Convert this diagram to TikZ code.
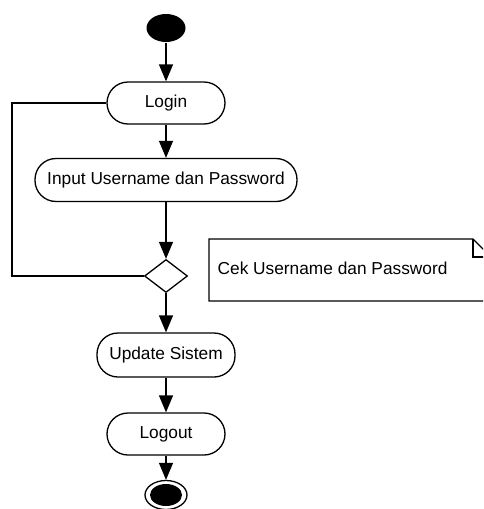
\documentclass[tikz,border=0pt]{standalone}
\usepackage{fontspec}
\setmainfont{Liberation Sans}
\usetikzlibrary{arrows.meta,shapes.geometric}
\begin{document}
\begin{tikzpicture}[x=1pt,y=-1pt,line width=1.3pt,
    every node/.style={font=\fontsize{17.3}{20}\selectfont},
    activity/.style={draw,rectangle,rounded corners=21pt,inner sep=0pt,minimum height=42pt},
    flow/.style={-{Triangle[length=17pt,width=14pt]}}]

      \useasboundingbox (0,0) rectangle (483,509);
      \clip (0,0) rectangle (483,509);

      \begin{scope}
        \node[ellipse,fill=black,inner sep=0pt,minimum width=39pt,minimum height=28pt] (start) at (166,28) {};
        \node[activity,minimum width=118pt] (login)  at (166,103) {Login};
        \node[activity,minimum width=262pt,minimum height=43pt] (input)  at (166,180) {Input Username dan Password};
        \node[diamond,draw,inner sep=0pt,minimum width=43pt,minimum height=33pt] (cek) at (166,276) {};
        \node[activity,minimum width=138pt,minimum height=44pt] (update) at (166,355) {Update Sistem};
        \node[activity,minimum width=118pt] (logout) at (166,434) {Logout};
        \node[ellipse,draw,inner sep=0pt,minimum width=42pt,minimum height=29pt] (end) at (166,495) {};
        \coordinate (back) at (12,276);
      \end{scope}

      \fill (end.center) ellipse (16pt and 11pt);

      % note
      \draw (209,239) -- (473,239) -- (491,257) -- (491,301) -- (209,301) -- cycle;
      \draw (473,239) -- (473,257) -- (491,257);
      \node[anchor=west,inner sep=0pt] (note) at (217,268) {Cek Username dan Password};

      \begin{scope}[every edge/.style={draw,flow}]
        \path (start)  edge (login);
        \path (login)  edge (input);
        \path (input)  edge (cek);
        \path (cek)    edge (update);
        \path (update) edge (logout);
        \path (logout) edge (end);
      \end{scope}
      \draw (cek.west) -- (back) |- (login.west);

    \end{tikzpicture}
\end{document}
